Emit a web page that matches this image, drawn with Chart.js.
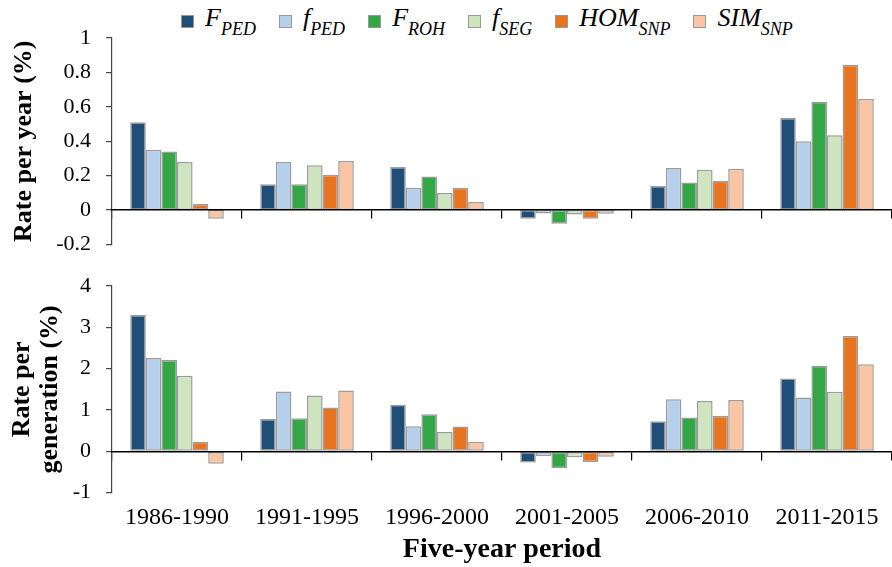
<!DOCTYPE html>
<html>
<head>
<meta charset="utf-8">
<script src="https://cdn.jsdelivr.net/npm/chart.js@4.4.1/dist/chart.umd.min.js"></script>
<style>
  html, body { margin:0; padding:0; background:#fff; }
  body { width:892px; height:567px; position:relative; overflow:hidden; }
  .box { position:absolute; left:0; width:892px; }
  #legend { position:absolute; left:181px; top:3px; font-family:'Liberation Serif', 'Times New Roman', serif; font-style:italic; font-size:26px; line-height:30px; white-space:nowrap; color:#000; }
  #legend .item { display:inline-block; margin-right:23px; }
  #legend .sw { display:inline-block; width:11px; height:11px; border:1px solid #999; margin-right:11px; vertical-align:-2px; }
  #legend sub { font-size:18px; vertical-align:-9px; line-height:0; }
</style>
</head>
<body>
<div id="legend"></div>
<div class="box" style="top:0;height:262px;"><canvas id="top"></canvas></div>
<div class="box" style="top:262px;height:305px;"><canvas id="bottom"></canvas></div>
<script>
// ---- data ----
const periods = ['1986-1990', '1991-1995', '1996-2000', '2001-2005', '2006-2010', '2011-2015'];
const seriesMain = ['F', 'f', 'F', 'f', 'HOM', 'SIM'];
const seriesSub  = ['PED', 'PED', 'ROH', 'SEG', 'SNP', 'SNP'];

// Rate per year (%)
const yearFPED = [0.51, 0.15, 0.25, -0.05, 0.14, 0.535];
const yearfPED = [0.35, 0.28, 0.13, -0.02, 0.245, 0.40];
const yearFROH = [0.34, 0.15, 0.195, -0.08, 0.16, 0.63];
const yearfSEG = [0.28, 0.26, 0.10, -0.025, 0.235, 0.435];
const yearHOM  = [0.035, 0.205, 0.13, -0.05, 0.17, 0.845];
const yearSIM  = [-0.05, 0.285, 0.047, -0.022, 0.24, 0.645];

// Rate per generation (%)
const genFPED = [3.30, 0.78, 1.13, -0.27, 0.73, 1.76];
const genfPED = [2.26, 1.45, 0.61, -0.11, 1.26, 1.30];
const genFROH = [2.21, 0.80, 0.90, -0.41, 0.82, 2.07];
const genfSEG = [1.83, 1.35, 0.47, -0.14, 1.22, 1.44];
const genHOM  = [0.23, 1.06, 0.60, -0.26, 0.86, 2.79];
const genSIM  = [-0.30, 1.47, 0.23, -0.13, 1.24, 2.11];

const yearTicks = { min: -0.2, max: 1, step: 0.2 };
const genTicks  = { min: -1, max: 4, step: 1 };

// ---- styles ----
const colors = ['#1f4e79', '#b6d0eb', '#33a645', '#cfe5c0', '#e8741f', '#f9c5a4'];
const SERIF = "'Liberation Serif', 'Times New Roman', serif";

// legend (HTML, to allow subscripts)
const leg = document.getElementById('legend');
seriesMain.forEach((m, i) => {
  const it = document.createElement('span');
  it.className = 'item';
  const sw = document.createElement('span');
  sw.className = 'sw';
  sw.style.background = colors[i];
  it.appendChild(sw);
  it.appendChild(document.createTextNode(m));
  const sb = document.createElement('sub');
  sb.textContent = seriesSub[i];
  it.appendChild(sb);
  leg.appendChild(it);
});

function makeDatasets(arrs) {
  return arrs.map((d, i) => ({
    label: seriesMain[i] + seriesSub[i],
    data: d,
    backgroundColor: colors[i],
    borderColor: '#9c9c9c',
    borderWidth: 1.5,
    borderSkipped: false,
    categoryPercentage: 0.72,
    barPercentage: 1.0,
  }));
}

function fmt(v) { const r = Math.round(v * 10) / 10; return (r === 0 ? 0 : r).toString(); }

function yScale(t, title, titlePad) {
  return {
    min: t.min, max: t.max,
    ticks: { stepSize: t.step, color: '#000', font: { family: SERIF, size: 22 }, padding: 15, callback: fmt },
    grid: { drawOnChartArea: false, drawTicks: true, tickLength: 6, color: '#444', lineWidth: 1.2 },
    border: { display: true, color: '#444', width: 1.2 },
    title: { display: true, text: title, color: '#000', font: { family: SERIF, size: 26, weight: 'bold', lineHeight: 1.05 }, padding: { top: titlePad, bottom: 0 } },
    afterFit(s) { s.width = 112; s.paddingTop = 0; s.paddingBottom = 0; },
  };
}

function xZero() {
  return {
    type: 'category',
    position: { y: 0 },
    offset: true,
    ticks: { display: false },
    grid: { offset: true, drawOnChartArea: false, drawTicks: true, tickLength: 8, color: '#000', lineWidth: 1.2 },
    border: { display: true, color: '#000', width: 1.5, z: 1 },
    afterFit(s) { s.height = 0; },
  };
}

const common = {
  responsive: true,
  maintainAspectRatio: false,
  animation: false,
  devicePixelRatio: 1,
  plugins: { legend: { display: false }, tooltip: { enabled: false } },
};

new Chart(document.getElementById('top'), {
  type: 'bar',
  data: { labels: periods, datasets: makeDatasets([yearFPED, yearfPED, yearFROH, yearfSEG, yearHOM, yearSIM]) },
  options: Object.assign({}, common, {
    layout: { padding: { top: 38, bottom: 17.5, left: 0, right: 0 } },
    scales: { x: xZero(), y: yScale(yearTicks, 'Rate per year (%)', 11) },
  }),
});

new Chart(document.getElementById('bottom'), {
  type: 'bar',
  data: { labels: periods, datasets: makeDatasets([genFPED, genfPED, genFROH, genfSEG, genHOM, genSIM]) },
  options: Object.assign({}, common, {
    layout: { padding: { top: 24, bottom: 0, left: 0, right: 0 } },
    scales: {
      x: xZero(),
      x2: {
        type: 'category',
        labels: periods,
        position: 'bottom',
        offset: true,
        grid: { display: false, drawTicks: false },
        border: { display: false },
        ticks: { color: '#000', font: { family: SERIF, size: 24 }, padding: 11, maxRotation: 0, autoSkip: false },
        title: { display: true, text: 'Five-year period', color: '#000', font: { family: SERIF, size: 28, weight: 'bold' }, padding: { top: 0, bottom: 0 } },
        afterFit(s) { s.height = 74.3; },
      },
      y: yScale(genTicks, ['Rate per', 'generation (%)'], 9),
    },
  }),
});
</script>
</body>
</html>
